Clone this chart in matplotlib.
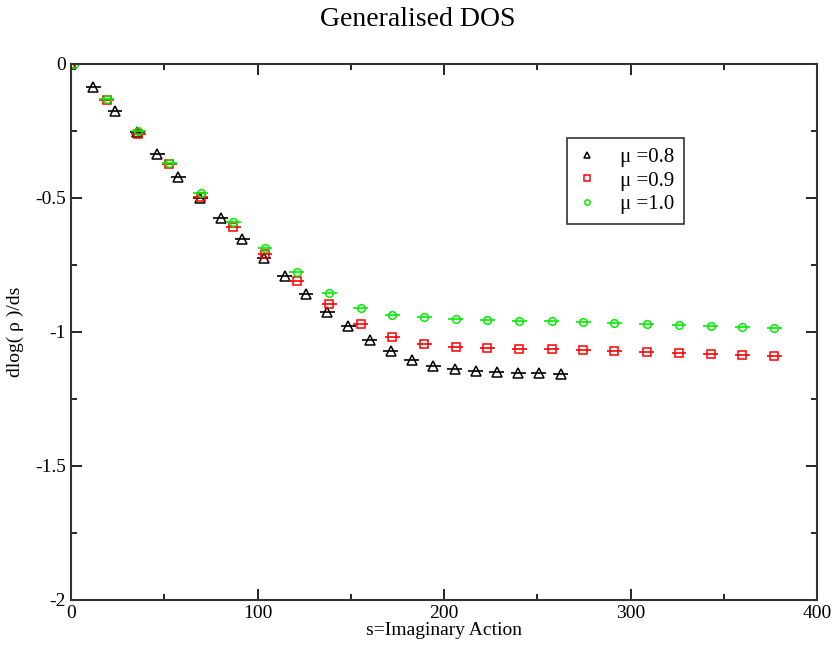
import matplotlib
matplotlib.use("Agg")
import matplotlib.pyplot as plt
from matplotlib.ticker import MultipleLocator, FixedFormatter, FixedLocator

plt.rcParams['font.family'] = ['Liberation Serif', 'DejaVu Serif']

# data
x08 = [0, 12.0, 23.6, 35.6, 46.3, 57.5, 69.2, 80.3, 91.8, 103.5, 114.7, 126.0,
       137.4, 148.6, 160.3, 171.4, 182.6, 194.2, 205.7, 217.0, 228.2, 239.8, 250.9, 262.6]
y08 = [0, -0.087, -0.174, -0.255, -0.337, -0.420, -0.501, -0.576, -0.652, -0.725, -0.791, -0.859,
       -0.924, -0.978, -1.030, -1.072, -1.104, -1.127, -1.139, -1.147, -1.149, -1.152, -1.153, -1.158]
x09 = [0, 19.1, 36.0, 52.7, 69.5, 87.0, 104.0, 121.0, 138.5, 155.3, 172.3, 189.3,
       206.4, 223.2, 240.4, 257.7, 274.7, 291.3, 308.7, 326.0, 343.0, 360.0, 377.0]
y09 = [0, -0.135, -0.260, -0.373, -0.495, -0.607, -0.709, -0.810, -0.897, -0.971, -1.020, -1.045,
       -1.055, -1.060, -1.063, -1.065, -1.068, -1.072, -1.076, -1.080, -1.083, -1.087, -1.091]
x10 = [1.5, 19.1, 36.0, 52.7, 69.5, 87.0, 104.0, 121.0, 138.5, 155.3, 172.3, 189.3,
       206.4, 223.2, 240.4, 257.7, 274.7, 291.3, 308.7, 326.0, 343.0, 360.0, 377.0]
y10 = [0, -0.130, -0.250, -0.368, -0.480, -0.588, -0.685, -0.776, -0.854, -0.910, -0.937, -0.945,
       -0.950, -0.954, -0.959, -0.960, -0.963, -0.966, -0.971, -0.975, -0.976, -0.980, -0.984]
xerr = 4.0
labels = ["\u03bc =0.8", "\u03bc =0.9", "\u03bc =1.0"]
xticks = [0, 100, 200, 300, 400]
yticks = [0, -0.5, -1, -1.5, -2]
yticklabels = ["0", "-0.5", "-1", "-1.5", "-2"]

fig = plt.figure(figsize=(8.35, 6.53), dpi=100)
ax = fig.add_axes([71/835, 1-600/653, (817-71)/835, (600-64)/653])

series = [(x08, y08, 'black', '^', 6.5), (x09, y09, 'red', 's', 6), (x10, y10, '#00ee00', 'o', 5.5)]
handles = []
for (xs, ys, c, m, ms), lab in zip(series, labels):
    ax.errorbar(xs, ys, xerr=xerr, fmt='none', ecolor=c, elinewidth=1.2, capsize=0)
    h, = ax.plot(xs, ys, linestyle='none', marker=m, markersize=ms, markerfacecolor='none',
                 markeredgecolor=c, markeredgewidth=1.1, label=lab)
    handles.append(h)

ax.set_xlim(0, 400)
ax.set_ylim(-2, 0)
ax.xaxis.set_major_locator(FixedLocator(xticks))
ax.xaxis.set_minor_locator(MultipleLocator(50))
ax.yaxis.set_major_locator(FixedLocator(yticks))
ax.yaxis.set_major_formatter(FixedFormatter(yticklabels))
ax.yaxis.set_minor_locator(MultipleLocator(0.25))
ax.tick_params(which='both', direction='in', top=True, right=True, labelsize=14)
ax.tick_params(which='major', length=8, width=1.2)
ax.tick_params(which='minor', length=4, width=1.2)
for s in ax.spines.values():
    s.set_linewidth(1.5)
    s.set_color('#333333')

ax.set_xlabel("s=Imaginary Action", fontsize=14, labelpad=0)
ax.set_ylabel("dlog( \u03c1 )/ds", fontsize=14, labelpad=8)
fig.suptitle("Generalised DOS", fontsize=20, y=0.99)

leg = ax.legend(handles=handles, loc='upper left', bbox_to_anchor=((567-71)/746, 1-(138-64)/536),
                fontsize=15, frameon=True, fancybox=False, edgecolor='black',
                handlelength=1.0, handletextpad=1.1, markerscale=0.7, borderpad=0.45,
                labelspacing=0.2, borderaxespad=0)
leg.get_frame().set_linewidth(1.2)

fig.savefig("out.png", dpi=100)
